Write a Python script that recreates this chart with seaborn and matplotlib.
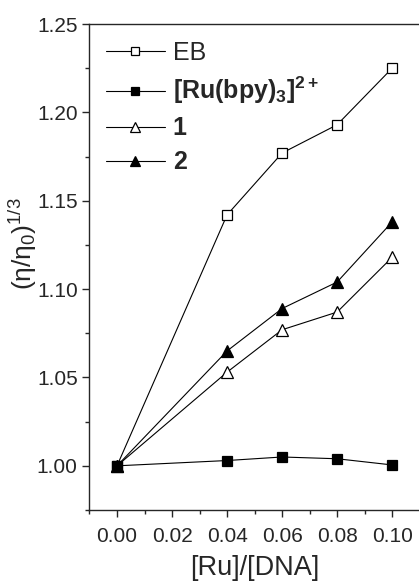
import seaborn as sns
import pandas as pd
import numpy as np
import matplotlib.pyplot as plt
from matplotlib.lines import Line2D
from matplotlib.ticker import MultipleLocator

# ratio [Ru]/[DNA] and relative viscosity (eta/eta0)^(1/3)
ratio = [0.00, 0.04, 0.06, 0.08, 0.10]
eb = [1.000, 1.142, 1.177, 1.193, 1.225]
ru_bpy = [1.000, 1.003, 1.005, 1.004, 1.0005]
comp1 = [1.000, 1.053, 1.077, 1.087, 1.118]
comp2 = [1.000, 1.065, 1.089, 1.104, 1.138]

labels = ['EB', r'[Ru(bpy)$_\mathbf{3}$]$^\mathbf{2+}$', '1', '2']
bold_label = [False, True, True, True]

sns.set_style('ticks')
plt.rcParams['font.family'] = ['Liberation Sans', 'DejaVu Sans']
plt.rcParams['mathtext.fontset'] = 'custom'
plt.rcParams['mathtext.rm'] = 'Liberation Sans'
plt.rcParams['mathtext.it'] = 'Liberation Sans:italic'
plt.rcParams['mathtext.bf'] = 'Liberation Sans:bold'

fig = plt.figure(figsize=(4.19, 5.83), dpi=100)
ax = fig.add_axes([0.2136, 0.1252, 0.7880, 0.8336])

series = [eb, ru_bpy, comp1, comp2]
markers = ['s', 's', '^', '^']
faces = ['white', 'black', 'white', 'black']
msizes = [7, 7, 8.5, 8.5]

for vals, lab, mk, fc, ms in zip(series, labels, markers, faces, msizes):
    sns.lineplot(x=ratio, y=vals, ax=ax, color='black', linewidth=0.8,
                 marker=mk, markersize=ms, markerfacecolor=fc,
                 markeredgecolor='black', markeredgewidth=0.9)

ax.set_xlim(-0.01, 0.11)
ax.set_ylim(0.975, 1.25)
ax.xaxis.set_minor_locator(MultipleLocator(0.01))
ax.yaxis.set_minor_locator(MultipleLocator(0.025))
ax.set_xticks([0.00, 0.02, 0.04, 0.06, 0.08, 0.10])
ax.set_xticklabels(['0.00', '0.02', '0.04', '0.06', '0.08', '0.10'])
ax.set_yticks([1.00, 1.05, 1.10, 1.15, 1.20, 1.25])
ax.set_yticklabels(['1.00', '1.05', '1.10', '1.15', '1.20', '1.25'])

ax.tick_params(which='major', direction='out', length=5, width=1, labelsize=15)
ax.tick_params(axis='x', which='major', pad=7)
ax.tick_params(which='minor', direction='out', length=3, width=1)
ax.spines['right'].set_visible(False)
for s in ['left', 'bottom', 'top']:
    ax.spines[s].set_linewidth(1)

ax.set_xlabel('[Ru]/[DNA]', fontsize=19.5, labelpad=7)
ax.set_ylabel('(η/η$_0$)$^{1/3}$', fontsize=19)
ax.yaxis.set_label_coords(-0.152, 0.548)

# legend proxies: marker centred on a short line, like the original
handles = [Line2D([], [], color='black', linewidth=0.8, marker=mk,
                  markersize=ms - 1, markerfacecolor=fc,
                  markeredgecolor='black', markeredgewidth=0.9)
           for mk, fc, ms in zip(markers, faces, msizes)]
leg = ax.legend(handles, labels, loc='upper left', bbox_to_anchor=(0.05, 0.965),
                frameon=False, numpoints=1, fontsize=18, handlelength=2.35,
                handletextpad=0.32, labelspacing=0.4, borderpad=0,
                borderaxespad=0)
for t, b in zip(leg.get_texts(), bold_label):
    if b:
        t.set_fontweight('bold')

fig.savefig('out.png', dpi=100)
